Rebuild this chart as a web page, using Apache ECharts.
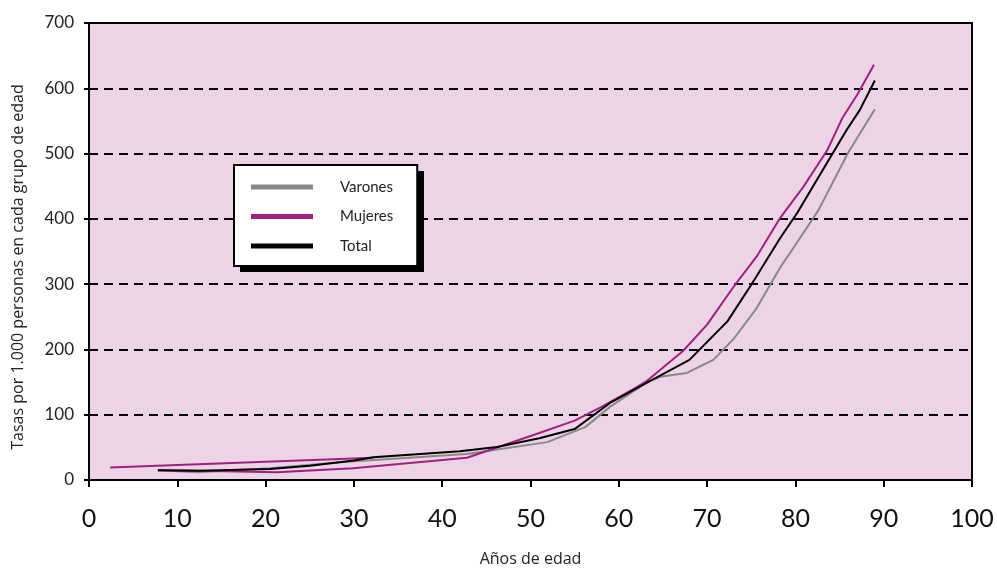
<!DOCTYPE html>
<html>
<head>
<meta charset="utf-8">
<script src="https://cdn.jsdelivr.net/npm/echarts@6/dist/echarts.min.js"></script>
<style>html,body{margin:0;padding:0;background:#fff;}#c{width:997px;height:568px;}</style>
</head>
<body>
<div id="c"></div>
<script>
// Data (age, rate per 1000)
var seriesNames = ['Varones', 'Mujeres', 'Total'];
var xTicks = [0, 10, 20, 30, 40, 50, 60, 70, 80, 90, 100];
var yTicks = [0, 100, 200, 300, 400, 500, 600, 700];
var yTitle = 'Tasas por 1.000 personas en cada grupo de edad';
var xTitle = 'Años de edad';

var varones = [[7.8,15],[12.3,12],[20.5,18],[29.2,28],[42.8,40],[51.9,58],[56.2,81],[59,112],[63.2,150],[64.7,158],[67.7,164],[70.7,184],[73,216],[75.6,263],[78.3,326],[79.6,352],[82.6,413],[86,502],[89,568]];
var mujeresInicio = [[2.4,19],[32.2,34]];
var mujeres = [[7.8,15],[12.3,14],[21.3,12],[29.9,18],[42.8,34],[44.3,41],[51,72],[55,91],[58.2,113],[62,142],[63.2,152],[67.3,198],[70,238],[73,296],[75.6,342],[78.3,402],[80.9,449],[83.6,505],[85.3,554],[87,590],[88.9,636]];
var total = [[7.8,15],[12.5,14],[20.5,17],[25,22],[30,30],[32.2,35],[42,44],[46.2,50.5],[51,64],[55,78],[59,118],[63.3,150],[68,184],[72.3,243],[75,299],[78.3,371],[80.2,409],[83.1,475],[85.8,536],[87.3,567],[89,612]];

var mujeresData = mujeresInicio.concat([['-','-']]).concat(mujeres);

var FONT = 'Lato';
var NAMEFONT = 'Open Sans';
var chart = echarts.init(document.getElementById('c'));
chart.setOption({
  animation: false,
  textStyle: {fontFamily: FONT},
  grid: {left: 89, right: 25, top: 23, bottom: 88, show: true, backgroundColor: '#ecd4e6', borderColor: '#000', borderWidth: 2, containLabel: false, outerBoundsMode: 'none'},
  graphic: [{
    type: 'rect', z: 5, silent: true,
    shape: {x: 240, y: 171, width: 184, height: 101},
    style: {fill: '#000'}
  }, {
    type: 'text', x: 18, y: 267, rotation: Math.PI / 2, silent: true,
    style: {text: yTitle, font: '16px "Open Sans"', fill: '#222', align: 'center', verticalAlign: 'middle'}
  }],
  legend: {
    z: 6,
    orient: 'vertical', left: 234, top: 165,
    data: seriesNames,
    icon: 'rect', itemWidth: 62, itemHeight: 5, itemGap: 11.5,
    padding: [13, 24, 11, 17],
    backgroundColor: '#fff', borderColor: '#000', borderWidth: 2,
    textStyle: {fontFamily: FONT, fontSize: 15, color: '#222', lineHeight: 18, padding: [0, 0, 0, 22]}
  },
  xAxis: {
    type: 'value', min: xTicks[0], max: xTicks[xTicks.length-1], interval: 10,
    name: xTitle, nameLocation: 'middle', nameGap: 71,
    nameTextStyle: {fontFamily: NAMEFONT, fontSize: 16, color: '#222'},
    axisLine: {show: true, lineStyle: {color: '#000', width: 2}},
    axisTick: {show: true, length: 7, lineStyle: {color: '#000', width: 2}},
    axisLabel: {fontFamily: FONT, fontSize: 25, color: '#111', margin: 26},
    splitLine: {show: false}
  },
  yAxis: {
    type: 'value', min: yTicks[0], max: yTicks[yTicks.length-1], interval: 100,
    axisLine: {show: true, lineStyle: {color: '#000', width: 2}},
    axisTick: {show: true, length: 5, lineStyle: {color: '#000', width: 2}},
    axisLabel: {fontFamily: FONT, fontSize: 17, color: '#222', margin: 15},
    splitLine: {show: true, lineStyle: {color: '#000', width: 2, type: [9, 6]}}
  },
  series: [
    {name: 'Varones', type: 'line', data: varones, symbol: 'none', lineStyle: {color: '#888888', width: 2}, itemStyle: {color: '#888888'}},
    {name: 'Mujeres', type: 'line', data: mujeresData, symbol: 'none', connectNulls: false, lineStyle: {color: '#a0207f', width: 2}, itemStyle: {color: '#a0207f'}},
    {name: 'Total', type: 'line', data: total, symbol: 'none', lineStyle: {color: '#000', width: 2}, itemStyle: {color: '#000'}}
  ]
});
</script>
</body>
</html>
